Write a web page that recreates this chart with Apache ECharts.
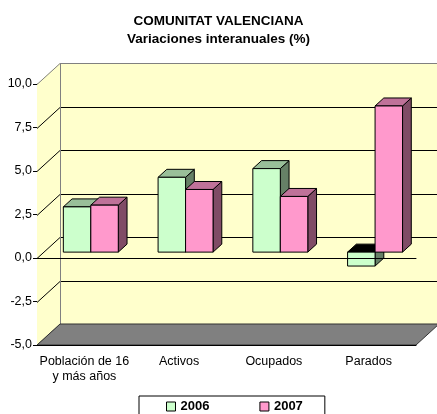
<!DOCTYPE html>
<html>
<head>
<meta charset="utf-8">
<script src="https://cdn.jsdelivr.net/npm/echarts@6/dist/echarts.min.js"></script>
<style>
  html, body { margin: 0; padding: 0; background: #fff; }
  #chart { width: 437px; height: 414px; }
</style>
</head>
<body>
<div id="chart"></div>
<script>
// Year-on-year change (%) by labour-market group
const titleLines = ['COMUNITAT VALENCIANA', 'Variaciones interanuales (%)'];
const categories = ['Población de 16\ny más años', 'Activos', 'Ocupados', 'Parados'];
const seriesNames = ['2006', '2007'];
const values2006 = [2.6, 4.3, 4.8, -0.8];
const values2007 = [2.7, 3.6, 3.2, 8.4];
const yTicks = [-5, -2.5, 0, 2.5, 5, 7.5, 10];

const FONT = '"Liberation Sans", Arial, sans-serif';

// Oblique projection used for the pseudo-3D look
const DX = 23, DY = -21;       // offset from front plane to back wall
const BAR_T = 0.28;            // depth at which bar fronts sit
const BAR_D = 0.38;            // bar depth
const BAR_W = 0.29;            // bar width as a fraction of the category band

const fill = {
  '2006': { front: '#CCFFCC', top: '#99BF99', side: '#668066' },
  '2007': { front: '#FF99CC', top: '#BF7299', side: '#804C66' }
};

function renderWalls(params, api) {
  const cs = params.coordSys;
  const x0 = cs.x, x1 = cs.x + cs.width;
  const yTop = api.coord([0, yTicks[yTicks.length - 1]])[1];
  const yBot = api.coord([0, yTicks[0]])[1];
  const children = [];
  // side wall
  children.push({ type: 'polygon', shape: { points: [[x0, yTop], [x0 + DX, yTop + DY], [x0 + DX, yBot + DY], [x0, yBot]] },
    style: { fill: '#FFFFCC', stroke: null } });
  // back wall
  children.push({ type: 'rect', shape: { x: x0 + DX, y: yTop + DY, width: x1 - x0, height: yBot - yTop },
    style: { fill: '#FFFFCC', stroke: null } });
  // gridlines on back and side walls
  yTicks.forEach(function (v) {
    const y = Math.round(api.coord([0, v])[1]) + 0.5;
    const col = v === yTicks[yTicks.length - 1] ? '#808080' : '#000';
    children.push({ type: 'line', shape: { x1: x0 + DX, y1: y + DY, x2: x1 + DX, y2: y + DY }, style: { stroke: col, lineWidth: 1 } });
    children.push({ type: 'line', shape: { x1: x0, y1: y, x2: x0 + DX, y2: y + DY }, style: { stroke: col, lineWidth: 1 } });
  });
  children.push({ type: 'line', shape: { x1: x0 + DX + 0.5, y1: yTop + DY, x2: x0 + DX + 0.5, y2: yBot + DY }, style: { stroke: '#808080', lineWidth: 1 } });
  // floor
  children.push({ type: 'polygon', shape: { points: [[x0, yBot], [x1, yBot], [x1 + DX, yBot + DY], [x0 + DX, yBot + DY]] },
    style: { fill: '#808080', stroke: '#333', lineWidth: 1 } });
  return { type: 'group', children: children };
}

function makeBarRenderer(name, slot) {
  const c = fill[name];
  return function (params, api) {
    const i = api.value(0), v = api.value(1);
    const base = api.coord([i, 0]);
    const tip = api.coord([i, v]);
    const band = api.size([1, 0])[0];
    const w = band * BAR_W;
    const ox = DX * BAR_T, oy = DY * BAR_T;
    const dx = DX * BAR_D, dy = DY * BAR_D;
    const xl = base[0] - (slot === 0 ? w : 0) + ox;
    const yu = Math.min(base[1], tip[1]) + oy;
    const yl = Math.max(base[1], tip[1]) + oy;
    const stroke = { stroke: '#000', lineWidth: 1 };
    return { type: 'group', children: [
      { type: 'polygon', shape: { points: [[xl + w, yu], [xl + w + dx, yu + dy], [xl + w + dx, yl + dy], [xl + w, yl]] },
        style: Object.assign({ fill: c.side }, stroke) },
      { type: 'polygon', shape: { points: [[xl, yu], [xl + w, yu], [xl + w + dx, yu + dy], [xl + dx, yu + dy]] },
        style: Object.assign({ fill: v < 0 ? '#000' : c.top }, stroke) },
      { type: 'rect', shape: { x: xl, y: yu, width: w, height: yl - yu },
        style: Object.assign({ fill: c.front }, stroke) }
    ] };
  };
}

const titleStyle = { fontFamily: FONT, fontSize: 13.5, fontWeight: 'bold', color: '#000' };

const chart = echarts.init(document.getElementById('chart'), null, { renderer: 'canvas' });
chart.setOption({
  animation: false,
  backgroundColor: '#fff',
  textStyle: { fontFamily: FONT },
  title: [
    { text: titleLines[0], left: 'center', top: 11, padding: [3, 0, 3, 6], textStyle: titleStyle },
    { text: titleLines[1], left: 'center', top: 29, padding: [3, 0, 3, 6], textStyle: titleStyle }
  ],
  legend: {
    data: seriesNames,
    left: 139, top: 396,
    padding: [4, 22, 6, 27],
    itemGap: 50, itemWidth: 9, itemHeight: 9,
    icon: 'rect',
    borderColor: '#000', borderWidth: 1,
    itemStyle: { borderColor: '#000', borderWidth: 1 },
    textStyle: { fontFamily: FONT, fontSize: 13, fontWeight: 'bold', color: '#000' }
  },
  grid: { left: 37, right: 21, top: 84, bottom: 69 },
  xAxis: [{
    type: 'category', data: categories, position: 'bottom',
    axisLine: { onZero: false, lineStyle: { color: '#000', width: 1 } },
    axisTick: { length: 5, lineStyle: { color: '#000' } },
    axisLabel: { margin: 9, fontSize: 12.5, lineHeight: 15, color: '#000', fontFamily: FONT, interval: 0 },
    z: 10
  }, {
    type: 'category', data: categories, position: 'bottom',
    axisLine: { onZero: true, lineStyle: { color: '#000', width: 1 } },
    axisTick: { length: 5, lineStyle: { color: '#000' } },
    axisLabel: { show: false },
    z: 10
  }],
  yAxis: {
    type: 'value', min: yTicks[0], max: yTicks[yTicks.length - 1], interval: 2.5,
    axisLine: { show: true, lineStyle: { color: '#000' } },
    axisTick: { show: true, length: 4, lineStyle: { color: '#000' } },
    splitLine: { show: false },
    axisLabel: { margin: 5, fontSize: 12.5, color: '#000', fontFamily: FONT,
      formatter: function (v) { return v.toFixed(1).replace('.', ','); } }
  },
  series: [
    { type: 'custom', renderItem: renderWalls, data: [[0, 0]], z: 1, silent: true },
    { type: 'custom', name: seriesNames[0], renderItem: makeBarRenderer(seriesNames[0], 0), z: 3,
      itemStyle: { color: fill['2006'].front, borderColor: '#000', borderWidth: 1 },
      data: values2006.map(function (v, i) { return [i, v]; }) },
    { type: 'custom', name: seriesNames[1], renderItem: makeBarRenderer(seriesNames[1], 1), z: 3,
      itemStyle: { color: fill['2007'].front, borderColor: '#000', borderWidth: 1 },
      data: values2007.map(function (v, i) { return [i, v]; }) }
  ]
});
</script>
</body>
</html>
